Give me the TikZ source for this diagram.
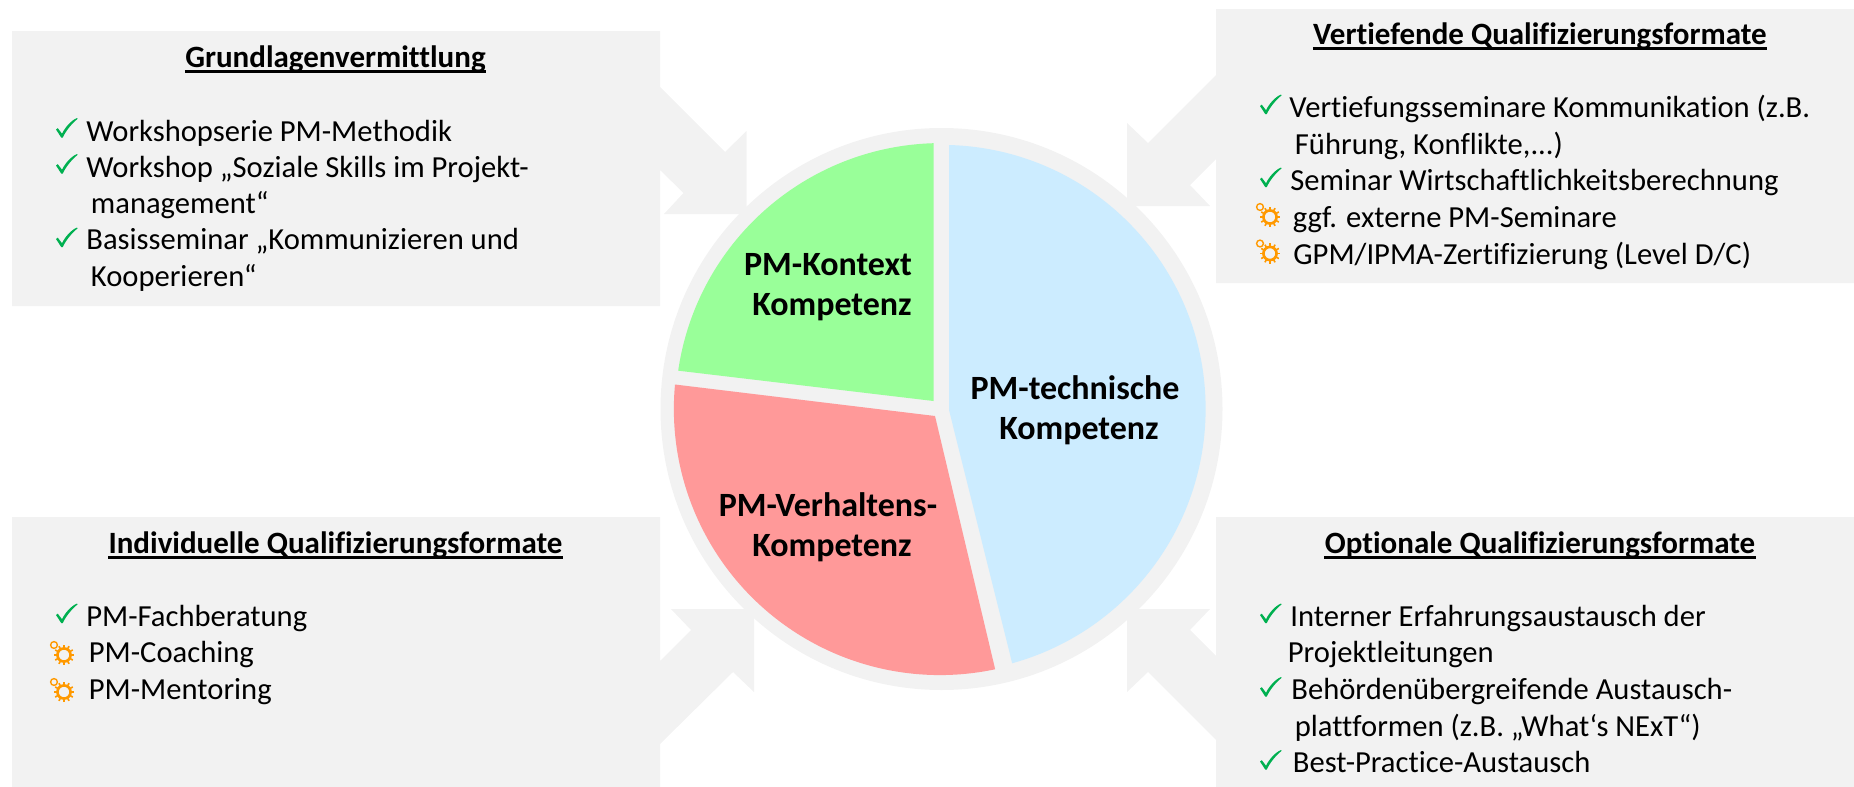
\documentclass[tikz,border=0pt]{standalone}
\usepackage{fontspec}
\setmainfont[Ligatures=NoCommon]{Carlito}

\definecolor{panelgray}{HTML}{F2F2F2}
\definecolor{pieblue}{HTML}{CCECFF}
\definecolor{piegreen}{HTML}{99FF99}
\definecolor{piered}{HTML}{FF9999}
\definecolor{checkgreen}{HTML}{00B050}
\definecolor{gearorange}{HTML}{FF9900}

\tikzset{
  panel/.style={fill=panelgray,draw=none},
  wedge/.style={draw=none},
  titletext/.style={anchor=base,inner sep=0pt,font=\fontsize{15.5}{18}\selectfont\bfseries},
  titlerule/.style={black,line width=1.5pt},
  itemtext/.style={anchor=base west,inner sep=0pt,font=\fontsize{15.3}{18}\selectfont},
  pietext/.style={anchor=base,inner sep=0pt,font=\fontsize{17}{20}\selectfont\bfseries},
  checkmark/.pic={
    \fill[checkgreen] (0,-8) -- (1.8,-9.3) -- (6,-3.8) .. controls (9,-10) and (15,-17) .. (21,-19.5)
      -- (21.6,-18.7) .. controls (15.5,-13.5) and (10,-7) .. (6.8,0) -- (5.2,0) -- cycle;
  },
  gearmark/.pic={
    \draw[gearorange,line width=1.3pt] (0,0) circle[radius=3.3pt];
    \draw[gearorange,line width=0.7pt] (-10,-10) circle[radius=1.7pt];
    \foreach \a in {0,30,...,330}
      \draw[gearorange,line width=0.8pt] (\a:3.3pt) -- (\a:5.1pt);
  }
}

\begin{document}
\begin{tikzpicture}[x=0.5pt,y=-0.5pt]
\useasboundingbox (0,0) rectangle (1854,787);

% panels with their arrows
\fill[panel] (12,31) -- (660,31) -- (660,87) -- (725,152) -- (746.5,131) -- (746.5,214) -- (664,214)
  -- (683.5,193) -- (660,170) -- (660,306) -- (12,306) -- cycle;
\fill[panel] (1854,9) -- (1216,9) -- (1216,75) -- (1148,143) -- (1127,123) -- (1127,206) -- (1210,206)
  -- (1190,185) -- (1216,159) -- (1216,283) -- (1854,283) -- cycle;
\fill[panel] (12,787) -- (660,787) -- (660,744) -- (733,672) -- (754,692) -- (754,609) -- (671,609)
  -- (691,630) -- (660,661) -- (660,517) -- (12,517) -- cycle;
\fill[panel] (1854,787) -- (1216,787) -- (1216,740) -- (1148,672) -- (1127,692) -- (1127,609) -- (1210,609)
  -- (1190,630) -- (1216,656) -- (1216,517) -- (1854,517) -- cycle;

% pie
\fill[panel] (941.5,409) circle[radius=140.5pt];
\fill[wedge,pieblue] (949,410) -- (949,145) arc[start angle=88.4,end angle=-74.5,radius=132pt] -- cycle;
\fill[wedge,piegreen] (933.5,401) -- (933.5,143.2) arc[start angle=91.7,end angle=171.7,radius=133pt] -- cycle;
\fill[wedge,piered] (935,416) -- (675,384.5) arc[start angle=174.7,end angle=282,radius=133pt] -- cycle;

\node[pietext] (kontext1) at (828,275) {PM-Kontext};
\node[pietext] (kontext2) at (832,315) {Kompetenz};
\node[pietext] (technik1) at (1075,399) {PM-technische};
\node[pietext] (technik2) at (1079,439) {Kompetenz};
\node[pietext] (verhalten1) at (828,516) {PM-Verhaltens-};
\node[pietext] (verhalten2) at (832,556) {Kompetenz};

% titles
\node[titletext] (grundlagen) at (335.5,67) {Grundlagenvermittlung};
\node[titletext] (vertiefend) at (1540,44) {Vertiefende Qualifizierungsformate};
\node[titletext] (individuell) at (335.5,553) {Individuelle Qualifizierungsformate};
\node[titletext] (optional) at (1540,553) {Optionale Qualifizierungsformate};
\foreach \t in {grundlagen,vertiefend,individuell,optional}
  \draw[titlerule] ([yshift=-2.2pt]\t.base west) -- ([yshift=-2.2pt]\t.base east);

% top left
\node[itemtext] (g1) at (86,141) {Workshopserie PM-Methodik};
\node[itemtext] (g2) at (86,177) {Workshop „Soziale Skills im Projekt-};
\node[itemtext] (g3) at (90.5,213) {management“};
\node[itemtext] (g4) at (86,249.5) {Basisseminar „Kommunizieren und};
\node[itemtext] (g5) at (90.5,286) {Kooperieren“};

% top right
\node[itemtext] (v1) at (1289,117.5) {Vertiefungsseminare Kommunikation (z.B.};
\node[itemtext] (v2) at (1294.5,154) {Führung, Konflikte,...)};
\node[itemtext] (v3) at (1290,190.5) {Seminar Wirtschaftlichkeitsberechnung};
\node[itemtext] (v4) at (1292.5,227.5) {ggf. externe PM-Seminare};
\node[itemtext] (v5) at (1293,264) {GPM/IPMA-Zertifizierung (Level D/C)};

% bottom left
\node[itemtext] (i1) at (86,626) {PM-Fachberatung};
\node[itemtext] (i2) at (88.5,662.5) {PM-Coaching};
\node[itemtext] (i3) at (88.5,699.5) {PM-Mentoring};

% bottom right
\node[itemtext] (o1) at (1290,626) {Interner Erfahrungsaustausch der};
\node[itemtext] (o2) at (1287.5,662.5) {Projektleitungen};
\node[itemtext] (o3) at (1291,699.5) {Behördenübergreifende Austausch-};
\node[itemtext] (o4) at (1294.5,736) {plattformen (z.B. „What‘s NExT“)};
\node[itemtext] (o5) at (1292.5,772.5) {Best-Practice-Austausch};

% check marks
\foreach \x/\y in {56/137.5,56/173.5,56/247,1260/114,1260/187,56/623,1260/623,1260/696.5,1260/769.5}
  \pic at (\x,\y) {checkmark};

% gears
\foreach \x/\y in {1270/217,1270/253.5,64/655,64/692}
  \pic at (\x,\y) {gearmark};
\end{tikzpicture}
\end{document}
